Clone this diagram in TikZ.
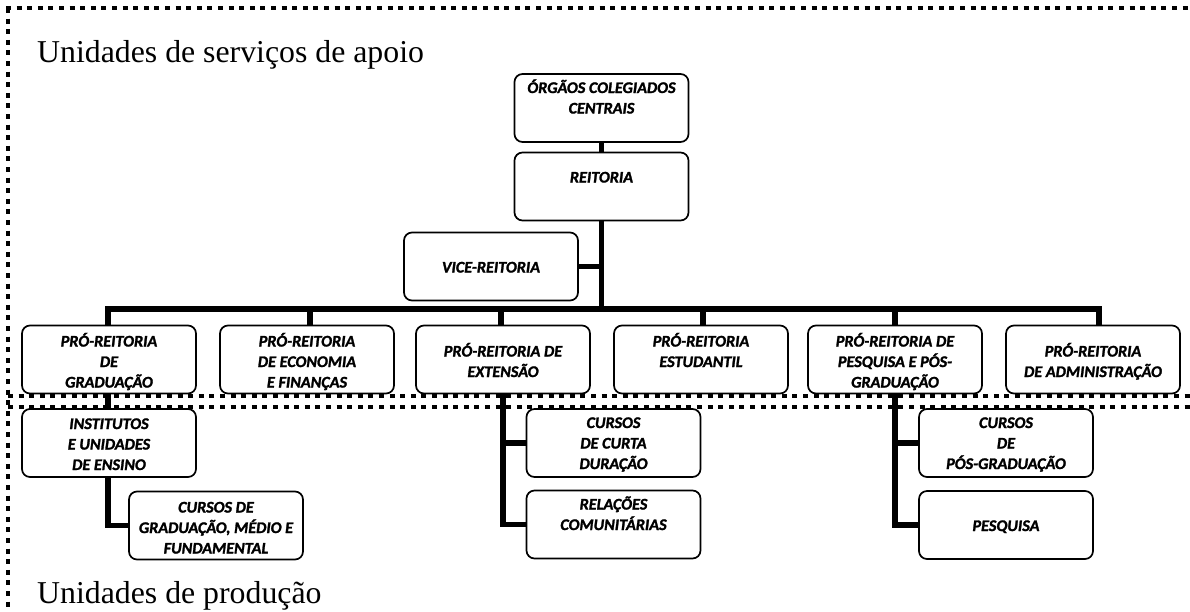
\documentclass[tikz,border=0pt]{standalone}
\usepackage{fontspec}
\setmainfont{Liberation Serif}
\newfontfamily\boxfont{Carlito}[BoldItalicFeatures={FakeBold=1.6}]
\newcommand\bxt[2]{\parbox[c][68pt][t]{174pt}{\centering\rule{0pt}{#1pt}#2}}
\begin{document}
\begin{tikzpicture}[x=1pt,y=-1pt,
  box/.style={draw, rounded corners=8pt, line width=1.7pt, inner sep=0pt,
    font=\boxfont\bfseries\itshape\fontsize{16.2}{20.5}\selectfont},
  conn/.style={line width=5.8pt},
  sepline/.style={line width=4.8pt, dash pattern=on 5pt off 5.6pt},
  head/.style={font=\fontsize{31.8}{36}\selectfont, anchor=base west, inner sep=0pt}]
\useasboundingbox (0,0) rectangle (1190,611);

% separators
\coordinate (tl) at (6,8);
\coordinate (tr) at (1190,8);
\coordinate (bl) at (8,611);
\coordinate (m1l) at (8,396);
\coordinate (m1r) at (1190,396);
\coordinate (m2l) at (8,407);
\coordinate (m2r) at (1190,407);
\draw[sepline] (tl) -- (tr);
\draw[sepline] (tl -| bl) -- (bl);
\draw[sepline] (m1l) -- (m1r);
\draw[sepline] (m2l) -- (m2r);

% headings
\node[head] (hsup) at (37,62) {Unidades de serviços de apoio};
\node[head] (hprod) at (37,603) {Unidades de produção};

% boxes
\node[box] (org) at (601.5,108) {\bxt{19}{ÓRGÃOS COLEGIADOS\\CENTRAIS}};
\node[box] (reit) at (601.5,186.5) {\bxt{30}{REITORIA}};
\node[box] (vice) at (491,266.5) {\bxt{40}{VICE-REITORIA}};

\node[box] (prgrad) at (109,359.5) {\bxt{21}{PRÓ-REITORIA\\DE\\GRADUAÇÃO}};
\node[box] (precon) at (307,359.5) {\bxt{21}{PRÓ-REITORIA\\DE ECONOMIA\\E FINANÇAS}};
\node[box] (prext) at (503,359.5) {\bxt{31}{PRÓ-REITORIA DE\\EXTENSÃO}};
\node[box] (prest) at (701,359.5) {\bxt{21}{PRÓ-REITORIA\\ESTUDANTIL}};
\node[box] (prpesq) at (895,359.5) {\bxt{21}{PRÓ-REITORIA DE\\PESQUISA E PÓS-\\GRADUAÇÃO}};
\node[box] (pradm) at (1093,359.5) {\bxt{31}{PRÓ-REITORIA\\DE ADMINISTRAÇÃO}};

\node[box] (inst) at (109,443) {\bxt{20}{INSTITUTOS\\E UNIDADES\\DE ENSINO}};
\node[box] (cgrad) at (216,525.5) {\bxt{21}{CURSOS DE\\GRADUAÇÃO, MÉDIO E\\FUNDAMENTAL}};
\node[box] (curta) at (613.5,443) {\bxt{19}{CURSOS\\DE CURTA\\DURAÇÃO}};
\node[box] (rel) at (613.5,524.5) {\bxt{19}{RELAÇÕES\\COMUNITÁRIAS}};
\node[box] (cpos) at (1006,443) {\bxt{19}{CURSOS\\DE\\PÓS-GRADUAÇÃO}};
\node[box] (pesq) at (1006,525) {\bxt{40}{PESQUISA}};

% connectors
\coordinate (b1) at (108,309);
\coordinate (b2) at (310,309);
\coordinate (b3) at (501,309);
\coordinate (b4) at (703,309);
\coordinate (b5) at (895,309);
\coordinate (b6) at (1099,309);
\draw[conn] (org.south) -- (reit.north);
\draw[conn] (reit.south) -- (reit.south |- b1);
\draw[conn] (vice.east) -- (vice.east -| reit.south);
\draw[conn] (b1 |- prgrad.north) -- (b1) -- (b6) -- (b6 |- pradm.north);
\draw[conn] (b2) -- (b2 |- precon.north);
\draw[conn] (b3) -- (b3 |- prext.north);
\draw[conn] (b4) -- (b4 |- prest.north);
\draw[conn] (b5) -- (b5 |- prpesq.north);

\draw[conn] (b1 |- prgrad.south) -- (b1 |- inst.north);
\draw[conn] (b1 |- inst.south) |- (cgrad.west);
\draw[conn] (prext.south) |- (rel.west);
\draw[conn] (prext.south |- curta.west) -- (curta.west);
\draw[conn] (prpesq.south) |- (pesq.west);
\draw[conn] (prpesq.south |- cpos.west) -- (cpos.west);
\end{tikzpicture}
\end{document}
